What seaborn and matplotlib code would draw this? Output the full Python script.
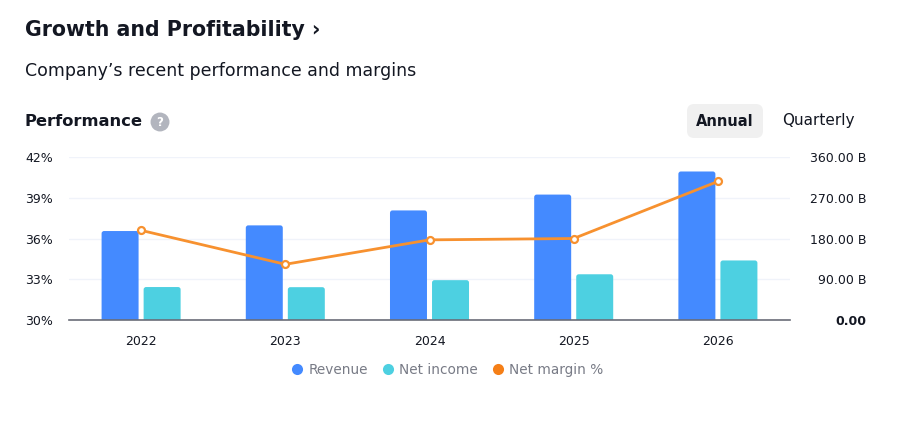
import matplotlib
matplotlib.use("Agg")
import matplotlib.pyplot as plt
from matplotlib.patches import FancyBboxPatch
from matplotlib.lines import Line2D
import seaborn as sns
import pandas as pd
import numpy as np

years = ["2022", "2023", "2024", "2025", "2026"]
revenue_b = [196.5, 209.0, 242.0, 277.0, 328.0]
net_income_b = [72.8, 72.5, 88.0, 101.0, 131.5]
net_margin_pct = [36.6, 34.1, 35.9, 36.0, 40.2]
left_ticks = [30, 33, 36, 39, 42]
left_tick_labels = ["30%", "33%", "36%", "39%", "42%"]
right_ticks = [0, 90, 180, 270, 360]
right_tick_labels = ["0.00", "90.00 B", "180.00 B", "270.00 B", "360.00 B"]
series_names = ["Revenue", "Net income", "Net margin %"]

C_REV = "#448aff"
C_NI = "#4dd0e1"
C_LINE = "#f7912f"
C_TEXT = "#131722"

sns.set_theme(style="white")
plt.rcParams["font.family"] = ["DejaVu Sans"]

W, H = 900, 425
fig = plt.figure(figsize=(9, 4.25), dpi=100)
fig.patch.set_facecolor("white")

def fx(x):
    return x / W

def fy(y):
    return 1 - y / H

def px2pt(p):
    return p * 72 / 100

ax_l, ax_r, ax_t, ax_b = 69, 790, 157, 320
ax = fig.add_axes([fx(ax_l), fy(ax_b), (ax_r - ax_l) / W, (ax_b - ax_t) / H])

df = pd.DataFrame({
    "year": years * 2,
    "value": revenue_b + net_income_b,
    "metric": [series_names[0]] * len(years) + [series_names[1]] * len(years),
})
sns.barplot(data=df, x="year", y="value", hue="metric",
            palette=[C_REV, C_NI], width=0.583, gap=0.12,
            ax=ax, saturation=1, legend=False)

ax2 = ax.twinx()
dfm = pd.DataFrame({"year": years, "margin": net_margin_pct})
sns.pointplot(data=dfm, x="year", y="margin", color=C_LINE, ax=ax2,
              markers="o", linestyles="-", linewidth=2,
              markerfacecolor="white", markeredgecolor=C_LINE,
              markersize=5, markeredgewidth=1.6)

# Bars axis (right scale)
ax.set_ylim(0, 360)
ax.set_xlim(-0.5, len(years) - 0.5)

# Rounded bar tops: replace seaborn's rectangles by rounded boxes of same geometry
x_per_px = (len(years)) / (ax_r - ax_l)
y_per_px = 360 / (ax_b - ax_t)
r_px = 2.5
for p in list(ax.patches):
    x0, y0, w, h = p.get_x(), p.get_y(), p.get_width(), p.get_height()
    fc = p.get_facecolor()
    p.set_visible(False)
    rb = FancyBboxPatch((x0 + r_px * x_per_px, y0 - 3 * y_per_px),
                        w - 2 * r_px * x_per_px, h + 3 * y_per_px - r_px * y_per_px,
                        boxstyle=f"round,pad={r_px * x_per_px},rounding_size={r_px * x_per_px}",
                        mutation_aspect=y_per_px / x_per_px,
                        fc=fc, ec="none", zorder=2, clip_on=True)
    ax.add_patch(rb)

ax.set_axisbelow(True)
ax.grid(axis="y", color="#f0f3fa", linewidth=1)
ax.grid(axis="x", visible=False)
for s in ["top", "left", "right"]:
    ax.spines[s].set_visible(False)
ax.spines["bottom"].set_color("#6a6d78")
ax.spines["bottom"].set_linewidth(1.2)
ax.spines["bottom"].set_zorder(3)
ax.yaxis.tick_right()
ax.set_yticks(right_ticks)
ax.set_yticklabels(right_tick_labels)
ax.tick_params(axis="y", left=False, right=False, labelleft=False, labelright=True,
               length=0, pad=px2pt(866 - ax_r), labelsize=9, labelcolor=C_TEXT)
for lab in ax.get_yticklabels():
    lab.set_horizontalalignment("right")
ax.get_yticklabels()[0].set_fontweight("bold")
ax.tick_params(axis="x", bottom=False, length=0, pad=11, labelsize=9, labelcolor=C_TEXT)
ax.set_xlabel("")
ax.set_ylabel("")

# Margin axis (left scale)
ax2.set_ylim(30, 42)
ax2.set_xlim(-0.5, len(years) - 0.5)
ax2.yaxis.tick_left()
ax2.set_yticks(left_ticks)
ax2.set_yticklabels(left_tick_labels)
ax2.tick_params(axis="y", left=False, right=False, labelleft=True, labelright=False,
                length=0, pad=px2pt(ax_l - 25), labelsize=9, labelcolor=C_TEXT)
for lab in ax2.get_yticklabels():
    lab.set_horizontalalignment("left")
ax2.tick_params(axis="x", bottom=False, labelbottom=False)
for s in ax2.spines.values():
    s.set_visible(False)
ax2.set_xlabel("")
ax2.set_ylabel("")
ax2.grid(False)

# Headings
fig.text(fx(25), fy(30), "Growth and Profitability ›", fontsize=14.8, fontweight="bold",
         color=C_TEXT, va="center", ha="left")
fig.text(fx(25), fy(71), "Company’s recent performance and margins", fontsize=12.5,
         color=C_TEXT, va="center", ha="left")
fig.text(fx(25), fy(121), "Performance", fontsize=11.8, fontweight="bold",
         color=C_TEXT, va="center", ha="left")
fig.text(fx(160), fy(122), "?", fontsize=8.5, fontweight="bold", color="white",
         va="center", ha="center",
         bbox=dict(boxstyle="circle,pad=0.25", fc="#b2b5be", ec="none"))

# Annual / Quarterly toggle
btn = FancyBboxPatch((fx(687), fy(138)), (763 - 687) / W, (138 - 104) / H,
                     boxstyle="round,pad=0,rounding_size=0.008",
                     transform=fig.transFigure, fc="#f0f0f0", ec="none",
                     mutation_aspect=W / H)
fig.patches.append(btn)
fig.text(fx(725), fy(121), "Annual", fontsize=10.5, fontweight="bold",
         color=C_TEXT, va="center", ha="center")
fig.text(fx(818), fy(121), "Quarterly", fontsize=11,
         color=C_TEXT, va="center", ha="center")

# Legend
handles = [Line2D([0], [0], marker="o", linestyle="none", markersize=8,
                  markerfacecolor=c, markeredgecolor="none")
           for c in [C_REV, C_NI, "#f57f17"]]
leg = fig.legend(handles, series_names, loc="center", ncol=3, frameon=False,
                 bbox_to_anchor=(fx(447), fy(370)), fontsize=9.8,
                 handletextpad=0.3, columnspacing=1.0, handlelength=1.0)
for t in leg.get_texts():
    t.set_color("#787b86")

fig.savefig("out.png", dpi=100, facecolor="white")
